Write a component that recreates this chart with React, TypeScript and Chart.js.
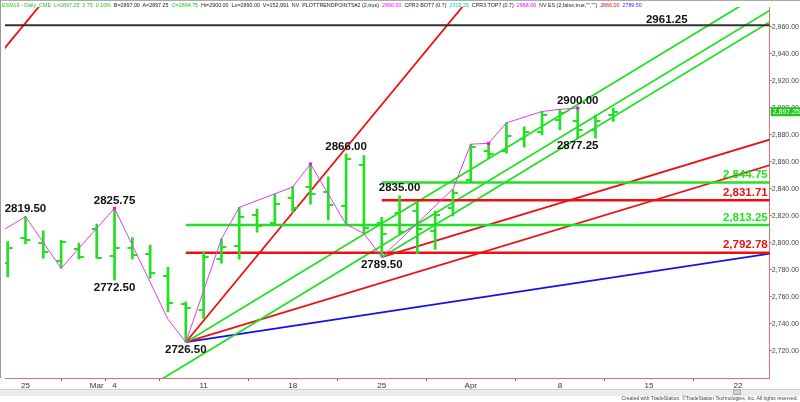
import React, { useEffect, useRef } from "react";
import { Chart, registerables } from "chart.js";

Chart.register(...registerables);

// ---------------- data ----------------
const barIdx = [0, 1, 2, 3, 4, 5, 6, 7, 8, 9, 10, 11, 12, 13, 14, 15, 16, 17, 18, 19, 20, 21, 22, 23, 24, 25, 26, 27, 28, 29, 30, 31, 32, 33, 34];
const barOpen = [2785, 2804, 2800, 2787, 2795.3, 2810, 2790, 2796, 2792, 2775.6, 2754.8, 2750.4, 2788, 2798, 2820.7, 2815, 2833.6, 2841.7, 2837.6, 2827.4, 2858, 2814.6, 2822, 2824, 2809, 2826, 2847, 2868, 2868, 2877, 2882.5, 2891, 2890, 2884, 2894.75];
const barHigh = [2801, 2819.5, 2809, 2802, 2800, 2814, 2825.75, 2804, 2798.5, 2782, 2756.5, 2793, 2803, 2826.4, 2825.2, 2836, 2841.7, 2858.5, 2849, 2866, 2864.7, 2819, 2835, 2830.6, 2823.7, 2839.5, 2873, 2874, 2889, 2886, 2897.6, 2899, 2900, 2894.8, 2900];
const barLow = [2775, 2799.3, 2788.7, 2781.3, 2788.2, 2788.7, 2772.5, 2788, 2774, 2749, 2726.5, 2744.2, 2785, 2788, 2808, 2813.3, 2822.7, 2828.7, 2817, 2813.8, 2807.2, 2789.5, 2806.7, 2792, 2795.3, 2820, 2845, 2862.7, 2866.5, 2871, 2880, 2883.7, 2877.25, 2877.6, 2890];
const barClose = [2796, 2802, 2793, 2801, 2789.8, 2789, 2796.5, 2791, 2777.6, 2755.3, 2752, 2789.4, 2797, 2819.5, 2812.6, 2829, 2826.2, 2836, 2828, 2862, 2811, 2807, 2808.4, 2810, 2821, 2837, 2871, 2866, 2879, 2882.5, 2895, 2896.5, 2884, 2890, 2897.25];

const xTickIdx = [1, 5, 6, 11, 16, 21, 26, 31, 36, 41];
const xTickLabels = ["25", "Mar", "4", "11", "18", "25", "Apr", "8", "15", "22"];
const yTickValues = [2720, 2740, 2760, 2780, 2800, 2820, 2840, 2860, 2880, 2900, 2920, 2940, 2960];

const zigzagIdx = [-1, 1, 3, 6, 9, 10, 12, 13, 16, 17, 19, 20, 21, 25, 26, 27, 28, 30, 31, 32];
const zigzagVal = [2803.7, 2819.5, 2781.3, 2825.75, 2743.5, 2726.5, 2803, 2826.4, 2841.5, 2858.5, 2813.8, 2807, 2789.5, 2840, 2873.2, 2873.8, 2889, 2897.4, 2899, 2900];
const pivotDotIdx = [6, 17, 27, 32];
const pivotDotVal = [2825.75, 2858.5, 2873.8, 2900];

const swingLabelIdx = [1, 6, 6, 10, 19, 22, 21, 32, 32];
const swingLabelVal = [2819.5, 2825.75, 2772.5, 2726.5, 2866, 2835, 2789.5, 2900, 2877.25];
const swingLabelAbove = [true, true, false, false, true, true, false, true, false];

const levelVal = [2844.75, 2831.71, 2813.25, 2792.78];
const levelStartIdx = [21, 21, 10, 10];
const resistanceVal = 2961.25;
const resistanceLabelIdx = 37;
const lastPrice = 2897.25;

const trendStartIdx = [-2, 10, 10, 8, 21, 10, 21, 10];
const trendStartVal = [2915, 2726.5, 2726.5, 2694, 2789.5, 2726.5, 2789.5, 2726.5];
const trendEndIdx = [3, 27, 44, 44, 44, 44, 44, 44];
const trendEndVal = [2995, 2998.5, 2998.5, 2982, 2973.5, 2862.5, 2881.5, 2794.5];

// ---------------- styles ----------------
const GREEN = "#22e022";
const RED = "#ee1010";
const BLUE = "#1010ee";
const MAGENTA = "#e040e0";
const trendColors = [RED, RED, GREEN, GREEN, GREEN, RED, RED, BLUE];
const levelColors = [GREEN, RED, GREEN, RED];
const LABEL_FONT = 'bold 11.5px "Liberation Sans", Arial, sans-serif';

function makeTick(side: "left" | "right", color: string) {
  const c = document.createElement("canvas");
  c.width = 12;
  c.height = 2;
  const g = c.getContext("2d")!;
  g.fillStyle = color;
  if (side === "left") g.fillRect(1, 0, 5, 2);
  else g.fillRect(6, 0, 5, 2);
  return c;
}

const fmt = (v: number) =>
  v.toLocaleString("en-US", { minimumFractionDigits: 2, maximumFractionDigits: 2 });

const labelsPlugin = {
  id: "labelsPlugin",
  afterDatasetsDraw(chart: any) {
    const { ctx, chartArea } = chart;
    const x = chart.scales.x;
    const y = chart.scales.y;
    ctx.save();
    ctx.font = LABEL_FONT;
    ctx.textBaseline = "middle";
    ctx.textAlign = "center";
    ctx.fillStyle = "#111";
    swingLabelIdx.forEach((i, k) => {
      const px = x.getPixelForValue(i);
      const py = y.getPixelForValue(swingLabelVal[k]) + (swingLabelAbove[k] ? -7.5 : 7.5);
      ctx.fillText(swingLabelVal[k].toFixed(2), px, py);
    });
    ctx.fillStyle = "#111";
    ctx.fillText(resistanceVal.toFixed(2), x.getPixelForValue(resistanceLabelIdx), y.getPixelForValue(resistanceVal) - 5.5);
    ctx.textAlign = "right";
    levelVal.forEach((v, k) => {
      ctx.fillStyle = levelColors[k];
      ctx.fillText(fmt(v), chartArea.right - 2, y.getPixelForValue(v) - 7.5);
    });
    ctx.restore();
  },
  afterDraw(chart: any) {
    const { ctx, chartArea } = chart;
    const y = chart.scales.y;
    const py = y.getPixelForValue(lastPrice);
    ctx.save();
    ctx.fillStyle = "#1ec81e";
    ctx.fillRect(chartArea.right + 1, py - 4.5, 30, 9);
    ctx.fillStyle = "#fff";
    ctx.font = '7px "Liberation Sans", Arial, sans-serif';
    ctx.textBaseline = "middle";
    ctx.textAlign = "left";
    ctx.fillText(fmt(lastPrice), chartArea.right + 3, py + 0.5);
    ctx.restore();
  },
};

export default function App() {
  const ref = useRef<HTMLCanvasElement | null>(null);

  useEffect(() => {
    document.body.style.margin = "0";
    const canvas = ref.current!;
    const leftTick = makeTick("left", GREEN);
    const rightTick = makeTick("right", GREEN);

    const datasets: any[] = [];
    datasets.push({
      type: "line",
      data: pivotDotIdx.map((i, k) => ({ x: i, y: pivotDotVal[k] })),
      showLine: false,
      pointStyle: "rect",
      pointRadius: 2.2,
      backgroundColor: "#ff00ff",
      borderColor: "#ff00ff",
      borderWidth: 0,
    });
    datasets.push({
      type: "line",
      data: zigzagIdx.map((i, k) => ({ x: i, y: zigzagVal[k] })),
      borderColor: MAGENTA,
      borderWidth: 1,
      pointRadius: 0,
      tension: 0,
    });
    datasets.push({
      type: "line",
      data: barIdx.map((i, k) => ({ x: i, y: barOpen[k] })),
      showLine: false,
      pointStyle: leftTick,
      pointRadius: 3,
    });
    datasets.push({
      type: "line",
      data: barIdx.map((i, k) => ({ x: i, y: barClose[k] })),
      showLine: false,
      pointStyle: rightTick,
      pointRadius: 3,
    });
    datasets.push({
      type: "bar",
      data: barIdx.map((i, k) => ({ x: i, y: [barLow[k], barHigh[k]] })),
      backgroundColor: GREEN,
      borderWidth: 0,
      barThickness: 2,
      grouped: false,
    });
    levelVal.forEach((v, k) => {
      datasets.push({
        type: "line",
        data: [{ x: levelStartIdx[k], y: v }, { x: 44, y: v }],
        borderColor: levelColors[k],
        borderWidth: 2.5,
        pointRadius: 0,
      });
    });
    datasets.push({
      type: "line",
      data: [{ x: -2, y: resistanceVal }, { x: 44, y: resistanceVal }],
      borderColor: "#333",
      borderWidth: 2,
      pointRadius: 0,
    });
    trendStartIdx.forEach((s, k) => {
      datasets.push({
        type: "line",
        data: [{ x: s, y: trendStartVal[k] }, { x: trendEndIdx[k], y: trendEndVal[k] }],
        borderColor: trendColors[k],
        borderWidth: 1.8,
        pointRadius: 0,
      });
    });

    const chart = new Chart(canvas, {
      type: "line",
      data: { datasets },
      options: {
        responsive: false,
        animation: false,
        devicePixelRatio: 1,
        events: [],
        layout: { padding: { top: 7, left: 0, right: 0, bottom: 0 } },
        plugins: { legend: { display: false }, tooltip: { enabled: false } },
        scales: {
          x: {
            type: "linear",
            min: -0.15,
            max: 42.78,
            offset: false,
            position: "bottom",
            afterBuildTicks: (s: any) => {
              s.ticks = xTickIdx.map((v) => ({ value: v }));
            },
            afterFit: (s: any) => {
              s.height = 24;
              s.paddingLeft = 0;
              s.paddingRight = 0;
            },
            ticks: {
              autoSkip: false,
              maxRotation: 0,
              padding: 0,
              color: "#333",
              font: { size: 8, family: '"Liberation Sans", Arial, sans-serif' },
              callback: (_v: any, index: number) => xTickLabels[index],
            },
            grid: { drawOnChartArea: false, drawTicks: true, tickLength: 3, color: "#666" },
            border: { display: true, color: "#e07070", width: 1 },
          },
          y: {
            type: "linear",
            position: "right",
            min: 2700,
            max: 2974.8,
            afterBuildTicks: (s: any) => {
              s.ticks = yTickValues.map((v) => ({ value: v }));
            },
            afterFit: (s: any) => {
              s.width = 30.3;
              s.paddingTop = 0;
              s.paddingBottom = 0;
            },
            ticks: {
              padding: 0,
              color: "#444",
              font: { size: 7, family: '"Liberation Sans", Arial, sans-serif' },
              callback: (v: any) => fmt(Number(v)),
            },
            grid: { drawOnChartArea: false, drawTicks: true, tickLength: 2, color: "#777" },
            border: { display: true, color: "#e07070", width: 1 },
          },
        },
      } as any,
      plugins: [labelsPlugin],
    });
    return () => chart.destroy();
  }, []);

  const hdr: [string, string][] = [
    ["#22c822", "ESM19 - Daily  CME  L=2897.25  2.75  0.10%"],
    ["#222", "  B=2897.00  A=2897.25  "],
    ["#22c822", "O=2894.75"],
    ["#222", "  Hi=2900.00  Lo=2890.00  V=152,991  NV  PLOTTRENDPOINTS#2 (2,true)  "],
    ["#ff00ff", "2900.00"],
    ["#222", "  CPR3 BOT7 (0.7)  "],
    ["#00c8c8", "2319.25"],
    ["#222", "  CPR3 TOP7 (0.7)  "],
    ["#ff00ff", "2968.00"],
    ["#222", '  NV ES (2,false,true,"","")  '],
    ["#ee1010", "2866.00"],
    ["#222", "  "],
    ["#3030ff", "2789.50"],
  ];

  return (
    <div style={{ position: "relative", width: 800, height: 402, background: "#fff", overflow: "hidden" }}>
      <canvas ref={ref} width={800} height={402} style={{ position: "absolute", left: 0, top: 0, width: 800, height: 402 }} />
      <div style={{ position: "absolute", left: 0, top: 0, width: 800, height: 1, background: "#aaa" }} />
      <div style={{ position: "absolute", left: 0, top: 0, width: 1, height: 378, background: "#999" }} />
      <div
        style={{
          position: "absolute",
          left: 2,
          top: 1,
          fontFamily: '"Liberation Sans", Arial, sans-serif',
          fontSize: 5.35,
          lineHeight: "8px",
          whiteSpace: "pre",
        }}
      >
        {hdr.map(([c, t], k) => (
          <span key={k} style={{ color: c }}>{t}</span>
        ))}
      </div>
      <div style={{ position: "absolute", left: 0, top: 389, width: 800, height: 6, background: "#ececec", borderTop: "1px solid #d0d0d0" }} />
      <div style={{ position: "absolute", left: 733, top: 389, width: 8, height: 6, background: "#cfcfcf", border: "1px solid #aaa", boxSizing: "border-box" }} />
      <div
        style={{
          position: "absolute",
          right: 2,
          top: 395,
          fontFamily: '"Liberation Sans", Arial, sans-serif',
          fontSize: 5,
          lineHeight: "6px",
          color: "#444",
          whiteSpace: "pre",
        }}
      >
        Created with TradeStation. ©TradeStation Technologies, Inc. All rights reserved.
      </div>
    </div>
  );
}
